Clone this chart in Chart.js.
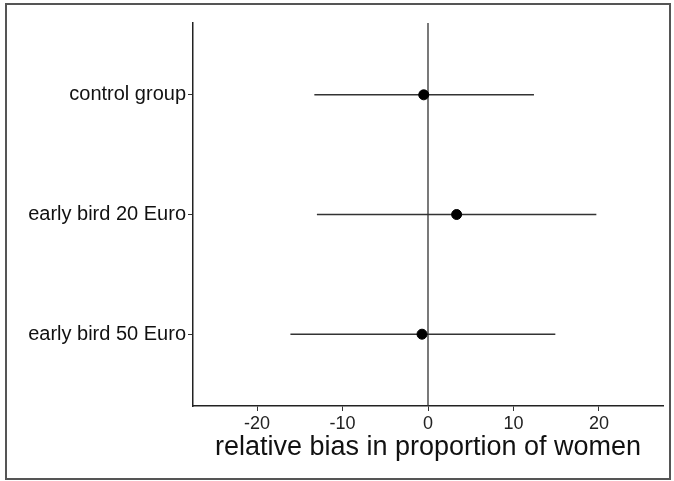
<!DOCTYPE html>
<html>
<head>
<meta charset="utf-8">
<script src="https://cdn.jsdelivr.net/npm/chart.js@4"></script>
<style>
  html, body { margin: 0; padding: 0; background: #fff; }
  #wrap { width: 674px; height: 481px; position: relative; }
</style>
</head>
<body>
<div id="wrap"><canvas id="biasChart" width="674" height="481"></canvas></div>
<script>
// groups, top to bottom
const groups = ['control group', 'early bird 20 Euro', 'early bird 50 Euro'];
const estimates = [-0.5, 3.35, -0.7];
const lowerCI = [-13.3, -13.0, -16.1];
const upperCI = [12.4, 19.7, 14.9];
const xTicks = [-20, -10, 0, 10, 20];

const FONT = "'Liberation Sans', Arial, sans-serif";

// one line dataset per confidence interval
const ciSets = groups.map((g, i) => ({
    type: 'line',
    label: g,
    data: [{ x: lowerCI[i], y: i + 1 }, { x: upperCI[i], y: i + 1 }],
    borderColor: '#333',
    borderWidth: 1.5,
    pointRadius: 0,
    order: 2
}));

// vertical reference line at zero
const zeroLine = {
    type: 'line',
    label: 'zero',
    data: [{ x: 0, y: 0.4 }, { x: 0, y: 3.6 }],
    borderColor: '#333',
    borderWidth: 1.3,
    pointRadius: 0,
    order: 3
};

const pointSet = {
    type: 'scatter',
    label: 'estimate',
    data: estimates.map((v, i) => ({ x: v, y: i + 1 })),
    backgroundColor: '#000',
    borderColor: '#000',
    pointRadius: 5,
    order: 1
};

// frame around the whole figure
const framePlugin = {
    id: 'frame',
    afterDraw(chart) {
        const ctx = chart.ctx;
        ctx.save();
        ctx.strokeStyle = '#555';
        ctx.lineWidth = 2;
        ctx.strokeRect(6, 4, 664, 475);
        ctx.restore();
    }
};

new Chart(document.getElementById('biasChart').getContext('2d'), {
    type: 'scatter',
    data: { datasets: [zeroLine, ...ciSets, pointSet] },
    options: {
        responsive: false,
        animation: false,
        layout: { padding: { top: 23, right: 11, left: 0, bottom: 0 } },
        plugins: { legend: { display: false }, tooltip: { enabled: false } },
        scales: {
            x: {
                type: 'linear',
                min: -27.5,
                max: 27.5,
                afterBuildTicks: s => { s.ticks = xTicks.map(v => ({ value: v })); },
                afterFit: s => { s.height = 75; },
                grid: { drawOnChartArea: false, tickLength: 5, tickColor: '#333' },
                border: { display: true, color: '#222', width: 1.5 },
                ticks: { color: '#222', font: { family: FONT, size: 18 }, padding: 2 },
                title: {
                    display: true,
                    text: 'relative bias in proportion of women',
                    color: '#111',
                    font: { family: FONT, size: 27 },
                    padding: { top: 17, bottom: 17 }
                }
            },
            y: {
                type: 'linear',
                reverse: true,
                min: 0.4,
                max: 3.6,
                afterBuildTicks: s => { s.ticks = groups.map((g, i) => ({ value: i + 1 })); },
                afterFit: s => { s.width = 193; },
                grid: { drawOnChartArea: false, tickLength: 5, tickColor: '#333' },
                border: { display: true, color: '#222', width: 1.5 },
                ticks: {
                    color: '#111',
                    font: { family: FONT, size: 20 },
                    padding: 2,
                    callback: v => groups[Math.round(v) - 1]
                }
            }
        }
    },
    plugins: [framePlugin]
});
</script>
</body>
</html>
